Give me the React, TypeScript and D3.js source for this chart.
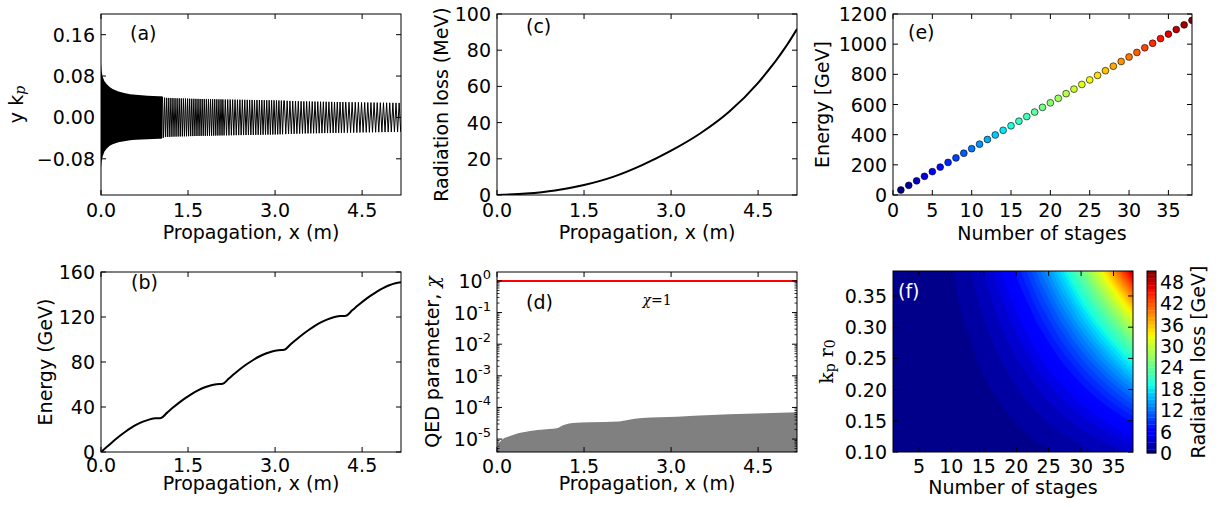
import React from 'react';
import * as d3 from 'd3';

const FONT = "'DejaVu Sans', Verdana, sans-serif";
const SERIF = "'DejaVu Serif', 'Liberation Serif', serif";
const FS = 19;

// ---------- shared propagation axis ----------
const propTicks = [0, 1.5, 3.0, 4.5];
const propTickLabels = ['0.0', '1.5', '3.0', '4.5'];
const propMax = 5.17;

// ---------- (a) transverse oscillation envelope ----------
const aYTicks = [-0.08, 0, 0.08, 0.16];
const aYTickLabels = ['\u22120.08', '0.00', '0.08', '0.16'];
const aYDomain = [-0.15, 0.2];
const aEnvX = [0, 0.01, 0.03, 0.06, 0.1, 0.15, 0.2, 0.3, 0.4, 0.5, 0.6, 0.8, 1.0, 1.04, 1.1, 1.3, 1.6, 2.0, 2.5, 3.0, 3.5, 4.0, 4.5, 5.17];
const aEnvTop = [0.104, 0.09, 0.078, 0.07, 0.064, 0.059, 0.055, 0.05, 0.047, 0.045, 0.044, 0.042, 0.041, 0.041, 0.038, 0.037, 0.036, 0.035, 0.034, 0.033, 0.031, 0.03, 0.029, 0.028];
const aEnvBot = [-0.097, -0.085, -0.075, -0.066, -0.06, -0.055, -0.052, -0.048, -0.046, -0.044, -0.043, -0.042, -0.041, -0.041, -0.038, -0.037, -0.036, -0.035, -0.034, -0.033, -0.031, -0.03, -0.029, -0.028];
const aDenseEnd = 1.06;
const aStageStart = [1.06, 2.1, 3.16, 4.22];
const aStageEnd = [2.1, 3.16, 4.22, 5.17];
const aStagePeriod = [0.036, 0.042, 0.048, 0.054];

// ---------- (b) energy gain ----------
const bYTicks = [0, 40, 80, 120, 160];
const bX = [0, 0.103, 0.207, 0.31, 0.414, 0.517, 0.62, 0.724, 0.827, 0.931, 1.034,
  1.14, 1.247, 1.353, 1.459, 1.566, 1.672, 1.778, 1.885, 1.991, 2.097,
  2.203, 2.31, 2.416, 2.522, 2.629, 2.735, 2.841, 2.947, 3.054, 3.16,
  3.266, 3.373, 3.479, 3.585, 3.692, 3.798, 3.904, 4.01, 4.117, 4.223,
  4.329, 4.436, 4.542, 4.648, 4.755, 4.861, 4.967, 5.074, 5.17];
const bE = [0, 4.7, 9.4, 13.8, 17.8, 21.4, 24.5, 27.0, 28.8, 29.9, 30.3,
  35.0, 39.7, 44.1, 48.1, 51.7, 54.8, 57.3, 59.1, 60.2, 60.6,
  65.3, 70.0, 74.4, 78.4, 82.0, 85.1, 87.6, 89.4, 90.5, 90.9,
  95.6, 100.3, 104.7, 108.7, 112.3, 115.4, 117.9, 119.7, 120.8, 121.2,
  125.9, 130.6, 135.0, 139.0, 142.6, 145.7, 148.2, 150.0, 150.9];

// ---------- (c) radiation loss ----------
const cYTicks = [0, 20, 40, 60, 80, 100];
const cX = [0, 0.5, 1.0, 1.5, 2.0, 2.5, 3.0, 3.5, 4.0, 4.5, 5.0, 5.17];
const cLoss = [0, 0.8, 2.5, 5.5, 10, 16.5, 24.5, 34, 46, 62, 83, 91.7];

// ---------- (d) QED parameter ----------
const dYDomain = [3.9e-6, 1.92];
const dDecades = [0, -1, -2, -3, -4, -5];
const dX = [0, 0.02, 0.05, 0.1, 0.2, 0.35, 0.5, 0.7, 0.9, 1.03, 1.15, 1.3, 1.6, 2.1, 2.25, 2.5, 2.8, 3.1, 3.4, 4.0, 4.6, 5.17];
const dChi = [3.9e-6, 6e-6, 8e-6, 1.0e-5, 1.2e-5, 1.5e-5, 1.7e-5, 1.95e-5, 2.1e-5, 2.2e-5, 2.8e-5, 3.2e-5, 3.4e-5, 3.6e-5, 4.0e-5, 4.6e-5, 4.9e-5, 5.1e-5, 5.5e-5, 6.1e-5, 6.6e-5, 7.1e-5];
const dChiRef = 1;

// ---------- (e) energy per stage ----------
const eXTicks = [0, 5, 10, 15, 20, 25, 30, 35];
const eYTicks = [0, 200, 400, 600, 800, 1000, 1200];
const eStages = [1, 2, 3, 4, 5, 6, 7, 8, 9, 10, 11, 12, 13, 14, 15, 16, 17, 18, 19, 20, 21, 22, 23, 24, 25, 26, 27, 28, 29, 30, 31, 32, 33, 34, 35, 36, 37, 38];
const eEnergy = [33, 64, 94, 124, 155, 185, 216, 246, 277, 307, 337, 368, 398, 429, 459, 489, 520, 550, 581, 611, 641, 672, 702, 733, 763, 793, 824, 854, 885, 915, 945, 976, 1006, 1037, 1067, 1097, 1128, 1158];

// ---------- (f) radiation loss map ----------
const fXTicks = [5, 10, 15, 20, 25, 30, 35];
const fYTicks = [0.1, 0.15, 0.2, 0.25, 0.3, 0.35];
const fYTickLabels = ['0.10', '0.15', '0.20', '0.25', '0.30', '0.35'];
const fN = [1, 4, 7, 10, 13, 16, 19, 22, 25, 28, 31, 34, 37, 40];
const fR = [0.10, 0.13, 0.16, 0.19, 0.22, 0.25, 0.28, 0.31, 0.34, 0.37, 0.40];
const fLoss = [
  [0.00, 0.00, 0.02, 0.06, 0.13, 0.24, 0.40, 0.63, 0.92, 1.29, 1.75, 2.31, 2.97, 3.76],
  [0.00, 0.01, 0.03, 0.10, 0.22, 0.41, 0.68, 1.06, 1.55, 2.18, 2.96, 3.90, 5.03, 6.35],
  [0.00, 0.01, 0.05, 0.15, 0.33, 0.62, 1.03, 1.60, 2.35, 3.30, 4.48, 5.91, 7.61, 9.62],
  [0.00, 0.01, 0.07, 0.21, 0.47, 0.87, 1.45, 2.26, 3.31, 4.65, 6.31, 8.33, 10.73, 13.56],
  [0.00, 0.02, 0.10, 0.28, 0.62, 1.16, 1.95, 3.03, 4.44, 6.24, 8.46, 11.17, 14.39, 18.19],
  [0.00, 0.02, 0.13, 0.37, 0.81, 1.50, 2.52, 3.91, 5.73, 8.05, 10.93, 14.42, 18.59, 23.48],
  [0.00, 0.03, 0.16, 0.46, 1.01, 1.89, 3.16, 4.90, 7.19, 10.10, 13.71, 18.09, 23.31, 29.46],
  [0.00, 0.04, 0.19, 0.56, 1.24, 2.31, 3.87, 6.01, 8.81, 12.38, 16.81, 22.18, 28.58, 36.11],
  [0.00, 0.04, 0.23, 0.68, 1.49, 2.78, 4.66, 7.23, 10.60, 14.90, 20.22, 26.68, 34.38, 43.44],
  [0.00, 0.05, 0.28, 0.80, 1.77, 3.29, 5.51, 8.56, 12.56, 17.64, 23.94, 31.59, 40.71, 51.44],
  [0.00, 0.06, 0.32, 0.94, 2.06, 3.85, 6.44, 10.00, 14.67, 20.62, 27.98, 36.92, 47.58, 60.12],
];
const fLevelMax = 51;
const cbTicks = [0, 6, 12, 18, 24, 30, 36, 42, 48];

// ---------- layout ----------
type Box = { l: number; r: number; t: number; b: number };
const PA: Box = { l: 101, r: 401, t: 14, b: 195 };
const PB: Box = { l: 101, r: 401, t: 272, b: 452 };
const PC: Box = { l: 497, r: 797, t: 14, b: 195 };
const PD: Box = { l: 497, r: 797, t: 272, b: 452 };
const PE: Box = { l: 893, r: 1192, t: 14, b: 195 };
const PF: Box = { l: 893, r: 1133, t: 271, b: 452 };
const CB: Box = { l: 1147, r: 1156, t: 271, b: 453 };

function jetChannel(t: number, pts: number[][]) {
  for (let i = 1; i < pts.length; i++) {
    if (t <= pts[i][0]) {
      const [x0, y0] = pts[i - 1];
      const [x1, y1] = pts[i];
      return y0 + ((t - x0) / (x1 - x0)) * (y1 - y0);
    }
  }
  return pts[pts.length - 1][1];
}
const JR = [[0, 0], [0.35, 0], [0.66, 1], [0.89, 1], [1, 0.5]];
const JG = [[0, 0], [0.125, 0], [0.375, 1], [0.64, 1], [0.91, 0], [1, 0]];
const JB = [[0, 0.5], [0.11, 1], [0.34, 1], [0.65, 0], [1, 0]];
function jet(t: number) {
  const c = Math.max(0, Math.min(1, t));
  const r = Math.round(255 * jetChannel(c, JR));
  const g = Math.round(255 * jetChannel(c, JG));
  const b = Math.round(255 * jetChannel(c, JB));
  return `rgb(${r},${g},${b})`;
}

type YLab = { pos: number; node: React.ReactNode };

function Frame({ box, xPos, xLabels, xBase, yLabs, minorY = [], tick = 5 }: {
  box: Box; xPos: number[]; xLabels: string[]; xBase: number; yLabs: YLab[]; minorY?: number[]; tick?: number;
}) {
  return (
    <g>
      <rect x={box.l} y={box.t} width={box.r - box.l} height={box.b - box.t} fill="none" stroke="#000" strokeWidth={1} />
      {xPos.map((x, i) => (
        <g key={'x' + i}>
          <line x1={x} x2={x} y1={box.b} y2={box.b - tick} stroke="#000" />
          <line x1={x} x2={x} y1={box.t} y2={box.t + tick} stroke="#000" />
          <text x={x} y={xBase} textAnchor="middle" fontSize={FS}>{xLabels[i]}</text>
        </g>
      ))}
      {yLabs.map((yl, i) => (
        <g key={'y' + i}>
          <line x1={box.l} x2={box.l + tick} y1={yl.pos} y2={yl.pos} stroke="#000" />
          <line x1={box.r} x2={box.r - tick} y1={yl.pos} y2={yl.pos} stroke="#000" />
          <text x={box.l - 6} y={yl.pos + 7} textAnchor="end" fontSize={FS}>{yl.node}</text>
        </g>
      ))}
      {minorY.map((y, i) => (
        <g key={'m' + i}>
          <line x1={box.l} x2={box.l + 2.5} y1={y} y2={y} stroke="#000" strokeWidth={0.8} />
          <line x1={box.r} x2={box.r - 2.5} y1={y} y2={y} stroke="#000" strokeWidth={0.8} />
        </g>
      ))}
    </g>
  );
}

function YTitle({ x, y, children, family = FONT }: { x: number; y: number; children: React.ReactNode; family?: string }) {
  return (
    <text transform={`translate(${x},${y}) rotate(-90)`} textAnchor="middle" dominantBaseline="central" fontSize={FS} fontFamily={family}>
      {children}
    </text>
  );
}

function Clip({ id, box }: { id: string; box: Box }) {
  return (
    <clipPath id={id}>
      <rect x={box.l} y={box.t} width={box.r - box.l} height={box.b - box.t} />
    </clipPath>
  );
}

export default function App() {
  React.useEffect(() => {
    document.body.style.margin = '0';
  }, []);

  // ----- (a)
  const ax = d3.scaleLinear().domain([0, propMax]).range([PA.l, PA.r]);
  const ay = d3.scaleLinear().domain(aYDomain).range([PA.b, PA.t]);
  const envT = d3.scaleLinear().domain(aEnvX).range(aEnvTop);
  const envB = d3.scaleLinear().domain(aEnvX).range(aEnvBot);
  const denseX = [...aEnvX.filter((v) => v < aDenseEnd), aDenseEnd];
  const densePts: [number, number][] = [
    ...denseX.map((v) => [ax(v), ay(envT(v))] as [number, number]),
    ...denseX.map((v) => [ax(v), ay(envB(v))] as [number, number]).reverse(),
  ];
  const densePath = 'M' + densePts.map((p) => p[0].toFixed(2) + ',' + p[1].toFixed(2)).join('L') + 'Z';
  let zig = '';
  aStageStart.forEach((s, k) => {
    const half = aStagePeriod[k] / 2;
    let up = true;
    for (let x = s; x <= aStageEnd[k] + 1e-9; x += half) {
      const y = up ? envT(x) : envB(x);
      zig += (zig === '' ? 'M' : 'L') + ax(x).toFixed(2) + ',' + ay(y).toFixed(2);
      up = !up;
    }
  });

  // ----- (b)
  const bx = d3.scaleLinear().domain([0, propMax]).range([PB.l, PB.r]);
  const by = d3.scaleLinear().domain([0, 160]).range([PB.b, PB.t]);
  const bLine = d3.line<number>().x((_, i) => bx(bX[i])).y((d) => by(d)).curve(d3.curveMonotoneX)(bE) || '';

  // ----- (c)
  const cx = d3.scaleLinear().domain([0, propMax]).range([PC.l, PC.r]);
  const cy = d3.scaleLinear().domain([0, 100]).range([PC.b, PC.t]);
  const cLine = d3.line<number>().x((_, i) => cx(cX[i])).y((d) => cy(d)).curve(d3.curveMonotoneX)(cLoss) || '';

  // ----- (d)
  const dx = d3.scaleLinear().domain([0, propMax]).range([PD.l, PD.r]);
  const dy = d3.scaleLog().domain(dYDomain).range([PD.b, PD.t]);
  const dArea = d3.area<number>().x((_, i) => dx(dX[i])).y0(PD.b).y1((d) => dy(d)).curve(d3.curveMonotoneX)(dChi) || '';
  const dMinor: number[] = [];
  for (let e = -6; e <= 0; e++) {
    for (let k = 2; k <= 9; k++) {
      const v = k * Math.pow(10, e);
      if (v >= dYDomain[0] && v <= dYDomain[1]) dMinor.push(dy(v));
    }
  }

  // ----- (e)
  const ex = d3.scaleLinear().domain([0, 38]).range([PE.l, PE.r]);
  const ey = d3.scaleLinear().domain([0, 1200]).range([PE.b, PE.t]);
  const eColor = (n: number) => jet((n - eStages[0]) / (eStages[eStages.length - 1] - eStages[0]));

  // ----- (f)
  const fx = d3.scaleLinear().domain([1, 38]).range([PF.l, PF.r]);
  const fy = d3.scaleLinear().domain([0.1, 0.39]).range([PF.b, PF.t]);
  const nx = fN.length;
  const ny = fR.length;
  const flat: number[] = [];
  for (let j = 0; j < ny; j++) for (let i = 0; i < nx; i++) flat.push(fLoss[j][i]);
  const levels = d3.range(0, fLevelMax + 1, 1);
  const contours = d3.contours().size([nx, ny]).thresholds(levels)(flat);
  const dN = fN[1] - fN[0];
  const dR = fR[1] - fR[0];
  const gx = (c: number) => fx(fN[0] + (c - 0.5) * dN);
  const gy = (c: number) => fy(fR[0] + (c - 0.5) * dR);
  const contourPath = (mp: any) =>
    mp.coordinates
      .map((poly: number[][][]) =>
        poly.map((ring) => 'M' + ring.map((p) => gx(p[0]).toFixed(2) + ',' + gy(p[1]).toFixed(2)).join('L') + 'Z').join('')
      )
      .join('');
  const bandColor = (t: number) => jet((t + 0.5) / fLevelMax);
  const cby = d3.scaleLinear().domain([0, fLevelMax]).range([CB.b, CB.t]);

  const sup = (s: string) => (
    <tspan fontSize={13} dy={-9}>{s}</tspan>
  );

  return (
    <svg width={1219} height={507} style={{ position: 'absolute', left: 0, top: 0, background: '#fff' }} fontFamily={FONT}>
      <defs>
        <Clip id="ca" box={PA} />
        <Clip id="cb" box={PB} />
        <Clip id="cc" box={PC} />
        <Clip id="cd" box={PD} />
        <Clip id="ce" box={PE} />
        <Clip id="cf" box={PF} />
      </defs>
      <rect x={0} y={0} width={1219} height={507} fill="#fff" />

      {/* (a) */}
      <g clipPath="url(#ca)">
        <path d={densePath} fill="#000" />
        <path d={zig} fill="none" stroke="#000" strokeWidth={1} />
      </g>
      <Frame box={PA} xPos={propTicks.map(ax)} xLabels={propTickLabels} xBase={217}
        yLabs={aYTicks.map((v, i) => ({ pos: ay(v), node: aYTickLabels[i] }))} />
      <text x={130} y={40} fontSize={FS}>(a)</text>
      <text x={251} y={239} textAnchor="middle" fontSize={FS}>Propagation, x (m)</text>
      <YTitle x={16} y={104.5}>y k<tspan fontFamily={SERIF} fontStyle="italic" fontSize={14} dy={4}>p</tspan></YTitle>

      {/* (b) */}
      <g clipPath="url(#cb)">
        <path d={bLine} fill="none" stroke="#000" strokeWidth={2} />
      </g>
      <Frame box={PB} xPos={propTicks.map(bx)} xLabels={propTickLabels} xBase={472}
        yLabs={bYTicks.map((v) => ({ pos: by(v), node: String(v) }))} />
      <text x={131} y={289} fontSize={FS}>(b)</text>
      <text x={251} y={490} textAnchor="middle" fontSize={FS}>Propagation, x (m)</text>
      <YTitle x={45} y={362}>Energy (GeV)</YTitle>

      {/* (c) */}
      <g clipPath="url(#cc)">
        <path d={cLine} fill="none" stroke="#000" strokeWidth={2} />
      </g>
      <Frame box={PC} xPos={propTicks.map(cx)} xLabels={propTickLabels} xBase={217}
        yLabs={cYTicks.map((v) => ({ pos: cy(v), node: String(v) }))} />
      <text x={526} y={33} fontSize={FS}>(c)</text>
      <text x={647} y={239} textAnchor="middle" fontSize={FS}>Propagation, x (m)</text>
      <YTitle x={441} y={104.5}>Radiation loss (MeV)</YTitle>

      {/* (d) */}
      <g clipPath="url(#cd)">
        <path d={dArea} fill="#808080" />
        <line x1={PD.l} x2={PD.r} y1={dy(dChiRef)} y2={dy(dChiRef)} stroke="#ff0000" strokeWidth={2} />
      </g>
      <Frame box={PD} xPos={propTicks.map(dx)} xLabels={propTickLabels} xBase={472.5} minorY={dMinor}
        yLabs={dDecades.map((e) => ({ pos: dy(Math.pow(10, e)), node: <>10{sup(e === 0 ? '0' : '-' + Math.abs(e))}</> }))} />
      <text x={526} y={309} fontSize={FS}>(d)</text>
      <text x={657} y={305} textAnchor="middle" fontSize={14} fontFamily={SERIF}>
        <tspan fontStyle="italic">χ</tspan>=1
      </text>
      <text x={647} y={490} textAnchor="middle" fontSize={FS}>Propagation, x (m)</text>
      <YTitle x={432} y={362}>QED parameter, <tspan fontFamily={SERIF} fontStyle="italic">χ</tspan></YTitle>

      {/* (e) */}
      <g clipPath="url(#ce)">
        {eStages.map((n, i) => (
          <circle key={n} cx={ex(n)} cy={ey(eEnergy[i])} r={3.4} fill={eColor(n)} stroke="#000" strokeWidth={0.6} />
        ))}
      </g>
      <Frame box={PE} xPos={eXTicks.map(ex)} xLabels={eXTicks.map(String)} xBase={217}
        yLabs={eYTicks.map((v) => ({ pos: ey(v), node: String(v) }))} />
      <text x={908} y={39} fontSize={FS}>(e)</text>
      <text x={1042} y={240} textAnchor="middle" fontSize={FS}>Number of stages</text>
      <YTitle x={822} y={104.5}>Energy [GeV]</YTitle>

      {/* (f) */}
      <g clipPath="url(#cf)">
        <rect x={PF.l} y={PF.t} width={PF.r - PF.l} height={PF.b - PF.t} fill={bandColor(0)} />
        {contours.map((c: any, i: number) => (
          <path key={i} d={contourPath(c)} fill={bandColor(c.value)} stroke={bandColor(c.value)} strokeWidth={0.4} />
        ))}
      </g>
      <Frame box={PF} xPos={fXTicks.map(fx)} xLabels={fXTicks.map(String)} xBase={472.5}
        yLabs={fYTicks.map((v, i) => ({ pos: fy(v), node: fYTickLabels[i] }))} />
      <text x={898} y={298} fontSize={FS} fill="#fff">(f)</text>
      <text x={1013} y={494} textAnchor="middle" fontSize={FS}>Number of stages</text>
      <YTitle x={826} y={361.5} family={SERIF}>
        k<tspan fontSize={14} dy={4}>p</tspan><tspan dy={-4}> r</tspan><tspan fontSize={14} dy={4}>0</tspan>
      </YTitle>

      {/* colorbar */}
      <g>
        {levels.slice(0, -1).map((t) => (
          <rect key={t} x={CB.l} y={cby(t + 1)} width={CB.r - CB.l} height={cby(t) - cby(t + 1) + 0.3} fill={bandColor(t)} />
        ))}
        <rect x={CB.l} y={CB.t} width={CB.r - CB.l} height={CB.b - CB.t} fill="none" stroke="#000" strokeWidth={1} />
        {cbTicks.map((v) => (
          <text key={v} x={CB.r + 4} y={cby(v) + 7} fontSize={FS}>{v}</text>
        ))}
        <YTitle x={1198} y={362}>Radiation loss [GeV]</YTitle>
      </g>
    </svg>
  );
}
